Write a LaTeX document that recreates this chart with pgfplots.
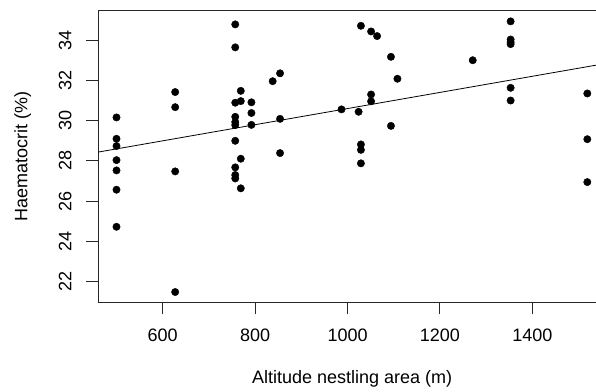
\documentclass[border=0pt]{standalone}
\usepackage{pgfplots}
\pgfplotsset{compat=1.18}
\usepackage{fontspec}
\setmainfont{Liberation Sans}

\pgfplotstableread{
x y
500 30.16
500 29.10
500 28.74
500 28.04
500 27.53
500 26.57
500 24.73
627 31.42
627 30.67
627 27.48
627 21.49
757 34.78
757 33.64
757 30.89
757 30.19
757 29.93
757 29.78
757 29.00
757 27.68
757 27.30
757 27.13
769 31.48
769 30.97
769 28.11
769 26.64
792 30.91
792 30.38
792 29.79
838 31.96
854 32.35
854 30.09
854 28.39
987 30.56
1024 30.44
1029 34.71
1029 28.82
1029 28.55
1029 27.88
1051 34.43
1051 31.30
1051 30.96
1064 34.20
1094 33.17
1094 29.74
1108 32.08
1271 33.00
1353 34.93
1353 34.03
1353 33.90
1353 33.80
1353 31.63
1353 31.00
1519 31.35
1519 29.08
1519 26.95
}\hct

\begin{document}
\begin{tikzpicture}
\begin{axis}[
  at={(0,0)}, anchor=south west,
  scale only axis, width=507.5bp, height=292.2bp,
  xmin=460.6, xmax=1559, ymin=20.98, ymax=35.49,
  xtick={600,800,1000,1200,1400}, ytick={22,24,26,28,30,32,34},
  xtick pos=left, ytick pos=left,
  tick align=outside, major tick length=12bp,
  axis line style={black!85, line width=1bp},
  tick style={black!85, line width=1bp},
  font=\fontsize{18bp}{21bp}\selectfont,
  /pgf/number format/assume math mode=true,
  /pgf/number format/1000 sep={},
  xticklabel style={anchor=north, inner sep=0pt},
  yticklabel style={rotate=90, anchor=south, inner sep=0pt},
  xticklabel shift=14.7bp, yticklabel shift=14.6bp,
  xlabel={Altitude nestling area (m)},
  ylabel={Haematocrit (\%)},
  every axis x label/.style={at={(axis description cs:0.5,-0.2774)}, anchor=base, inner sep=0pt},
  every axis y label/.style={at={(axis description cs:-0.1398,0.5)}, rotate=90, anchor=base, inner sep=0pt},
]
\addplot[black, line width=0.8bp, no marks] coordinates {(460.6,28.44) (1559,32.84)};
\addplot[only marks, mark=*, mark size=3.7bp, black] table[x=x,y=y] {\hct};
\end{axis}
\pgfresetboundingbox
\path[use as bounding box] (-98.3bp,-89.7bp) rectangle (497.7bp,302.3bp);
\end{tikzpicture}
\end{document}
